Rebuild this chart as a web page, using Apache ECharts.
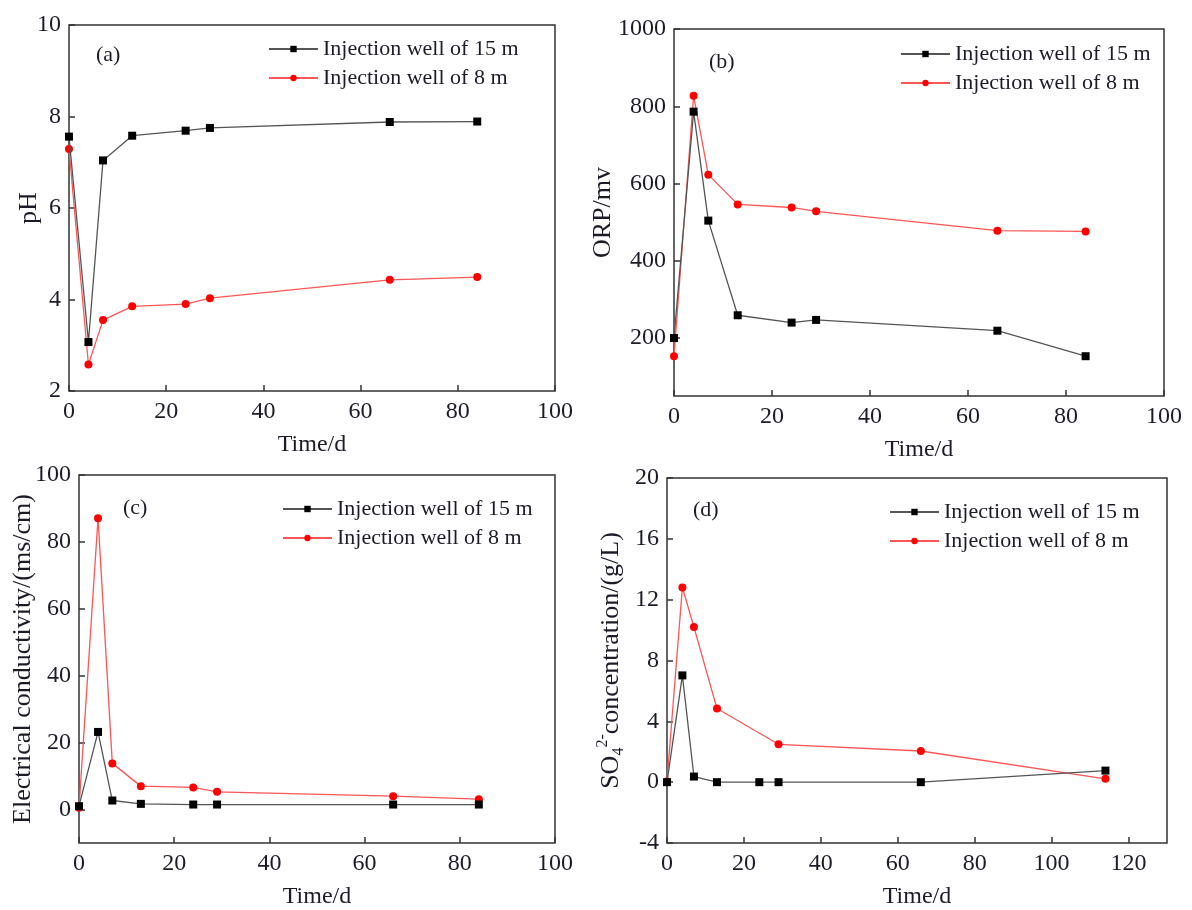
<!DOCTYPE html>
<html>
<head>
<meta charset="utf-8">
<script src="https://cdn.jsdelivr.net/npm/echarts@6/dist/echarts.min.js"></script>
<style>
    html, body { margin: 0; padding: 0; background: #fff; }
    #main { width: 1192px; height: 910px; }
</style>
</head>
<body>
<div id="main"></div>
<script>
// 采样时间 (d)
var days = [0, 4, 7, 13, 24, 29, 66, 84];
var daysSo4Deep = [0, 4, 7, 13, 24, 29, 66, 114];
var daysSo4Shallow = [0, 4, 7, 13, 29, 66, 114];

// (a) pH
var phDeep = [7.56, 3.07, 7.04, 7.58, 7.69, 7.75, 7.88, 7.89];
var phShallow = [7.29, 2.58, 3.55, 3.85, 3.90, 4.03, 4.43, 4.49];
// (b) ORP
var orpDeep = [200, 786, 504, 259, 240, 247, 219, 153];
var orpShallow = [153, 827, 623, 546, 538, 528, 478, 476];
// (c) 电导率
var ecDeep = [1.0, 23.2, 2.7, 1.7, 1.5, 1.5, 1.5, 1.5];
var ecShallow = [0.5, 87.1, 13.8, 7.0, 6.6, 5.3, 4.0, 3.1];
// (d) 硫酸根
var so4Deep = [0, 7.02, 0.37, 0, 0, 0, 0, 0.76];
var so4Shallow = [0.05, 12.8, 10.2, 4.84, 2.49, 2.05, 0.22];

// 刻度
var ticksX100 = [0, 20, 40, 60, 80, 100];
var ticksX120 = [0, 20, 40, 60, 80, 100, 120];
var ticksPh = [2, 4, 6, 8, 10];
var ticksOrp = [200, 400, 600, 800, 1000];
var ticksEc = [0, 20, 40, 60, 80, 100];
var ticksSo4 = [-4, 0, 4, 8, 12, 16, 20];

var nameDeep = 'Injection well of 15 m';
var nameShallow = 'Injection well of 8 m';

var FONT = '"Liberation Serif", "Times New Roman", serif';
var TXT = '#1c1c28';

var Chart = function() {
    var t = {
        pairs : function(xs, ys) {
            var out = [];
            for (var i = 0; i < ys.length; i++) {
                out.push([xs[i], ys[i]]);
            }
            return out;
        },
        plain : function(v) {
            return String(v);
        },
        xAxis : function(idx, max, ticks) {
            return {
                type : 'value',
                gridIndex : idx,
                min : 0,
                max : max,
                name : 'Time/d',
                nameLocation : 'middle',
                nameGap : 42,
                nameMoveOverlap : false,
                nameTextStyle : { fontFamily : FONT, fontSize : 24, color : TXT },
                axisLine : { show : false, onZero : false },
                axisTick : { show : true, inside : true, length : 6, customValues : ticks,
                    lineStyle : { color : '#333', width : 1.5 } },
                axisLabel : { customValues : ticks, margin : 9, fontFamily : FONT, fontSize : 24, color : TXT,
                    formatter : t.plain },
                splitLine : { show : false }
            };
        },
        yAxis : function(idx, min, max, ticks, name, gap) {
            return {
                type : 'value',
                gridIndex : idx,
                min : min,
                max : max,
                name : name,
                nameLocation : 'middle',
                nameRotate : 90,
                nameGap : gap,
                nameMoveOverlap : false,
                nameTextStyle : { fontFamily : FONT, fontSize : 26, color : TXT },
                axisLine : { show : false, onZero : false },
                axisTick : { show : true, inside : true, length : 6, customValues : ticks,
                    lineStyle : { color : '#333', width : 1.5 } },
                axisLabel : { customValues : ticks, margin : 8, fontFamily : FONT, fontSize : 24, color : TXT,
                    formatter : t.plain },
                splitLine : { show : false }
            };
        },
        series : function(idx, name, data, deep) {
            return {
                name : name,
                type : 'line',
                xAxisIndex : idx,
                yAxisIndex : idx,
                data : data,
                symbol : deep ? 'rect' : 'circle',
                symbolSize : 8,
                lineStyle : { color : deep ? '#555' : '#ff5555', width : 1.3 },
                itemStyle : { color : deep ? '#000' : '#ff0000' },
                z : deep ? 3 : 2,
                animation : false
            };
        },
        legend : function(left, top) {
            return {
                left : left,
                top : top,
                padding : 0,
                orient : 'vertical',
                itemWidth : 49,
                itemHeight : 8,
                itemGap : 7,
                data : [nameDeep, nameShallow],
                textStyle : { fontFamily : FONT, fontSize : 22, lineHeight : 22, color : TXT }
            };
        },
        tag : function(text, left, top) {
            return {
                text : text,
                left : left,
                top : top,
                padding : 0,
                textStyle : { fontFamily : FONT, fontSize : 22, fontWeight : 'normal', color : TXT }
            };
        },
        render : function() {
            var grids = [
                { left : 69, top : 25, width : 486, height : 366 },
                { left : 674, top : 29, width : 490, height : 367 },
                { left : 79, top : 475, width : 476, height : 369 },
                { left : 667, top : 478, width : 500, height : 367 }
            ];
            for (var i = 0; i < grids.length; i++) {
                grids[i].show = true;
                grids[i].borderColor = '#333';
                grids[i].borderWidth = 1.5;
                grids[i].backgroundColor = 'transparent';
            }
            var so4Name = '{n|SO}{sub|4}{sup|2-}{n|concentration/(g/L)}';
            var option = {
                backgroundColor : '#fff',
                animation : false,
                title : [
                    t.tag('(a)', 96, 44),
                    t.tag('(b)', 709, 51),
                    t.tag('(c)', 123, 497),
                    t.tag('(d)', 693, 499)
                ],
                legend : [
                    t.legend(268, 38),
                    t.legend(900, 43),
                    t.legend(282, 498),
                    t.legend(889, 501)
                ],
                grid : grids,
                xAxis : [
                    t.xAxis(0, 100, ticksX100),
                    t.xAxis(1, 100, ticksX100),
                    t.xAxis(2, 100, ticksX100),
                    t.xAxis(3, 130, ticksX120)
                ],
                yAxis : [
                    t.yAxis(0, 2, 10, ticksPh, 'pH', 27),
                    t.yAxis(1, 50, 1000, ticksOrp, 'ORP/mv', 58),
                    t.yAxis(2, -10, 100, ticksEc, 'Electrical conductivity/(ms/cm)', 43),
                    t.yAxis(3, -4, 20, ticksSo4, so4Name, 38)
                ],
                series : [
                    t.series(0, nameDeep, t.pairs(days, phDeep), true),
                    t.series(0, nameShallow, t.pairs(days, phShallow), false),
                    t.series(1, nameDeep, t.pairs(days, orpDeep), true),
                    t.series(1, nameShallow, t.pairs(days, orpShallow), false),
                    t.series(2, nameDeep, t.pairs(days, ecDeep), true),
                    t.series(2, nameShallow, t.pairs(days, ecShallow), false),
                    t.series(3, nameDeep, t.pairs(daysSo4Deep, so4Deep), true),
                    t.series(3, nameShallow, t.pairs(daysSo4Shallow, so4Shallow), false)
                ]
            };
            // SO4 标题用富文本
            option.yAxis[3].nameTextStyle.rich = {
                n : { fontFamily : FONT, fontSize : 26, color : TXT, lineHeight : 36, verticalAlign : 'middle' },
                sub : { fontFamily : FONT, fontSize : 16, color : TXT, lineHeight : 36, verticalAlign : 'bottom', padding : [0, 0, 2, 0] },
                sup : { fontFamily : FONT, fontSize : 16, color : TXT, lineHeight : 36, verticalAlign : 'top', padding : [2, 0, 0, 0] }
            };
            var myChart = echarts.init(document.getElementById('main'), null, { renderer : 'canvas' });
            myChart.setOption(option);
        }
    };
    return t;
}();

Chart.render();
</script>
</body>
</html>
